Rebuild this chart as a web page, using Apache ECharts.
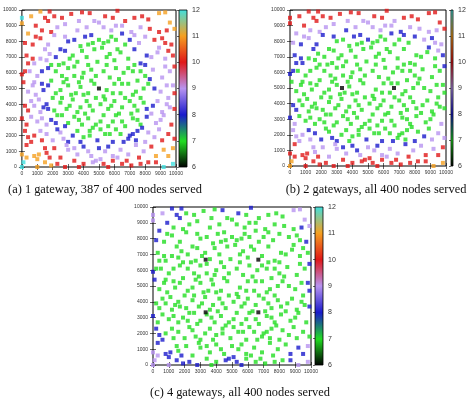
<!DOCTYPE html>
<html>
<head>
<meta charset="utf-8">
<script src="https://cdn.jsdelivr.net/npm/echarts@6/dist/echarts.min.js"></script>
<style>
  html, body { margin: 0; padding: 0; background: #fff; }
  #chart { width: 468px; height: 404px; }
</style>
</head>
<body>
<div id="chart"></div>
<script>
// node positions (same deployment in all three panels)
const nodePos = [
  [0,9500],[1200,9900],[1500,9500],[1700,9300],[2100,9600],[3200,9750],[3900,9850],[4400,9800],[5400,9600],[5900,9500],
  [6200,9950],[7300,9500],[7800,9600],[8900,9800],[9300,9850],[9600,9200],[6700,9300],[0,9150],[400,8500],[900,9000],
  [1300,8700],[1900,8600],[2300,8900],[2800,9100],[3600,8700],[4200,8900],[4700,9300],[5300,8900],[5800,8700],[6500,9000],
  [7100,8600],[7700,8900],[8300,8800],[8900,8600],[9400,8700],[9900,8800],[600,9600],[200,7900],[700,7800],[1200,8200],
  [1700,7800],[2100,8400],[2800,8300],[3000,8000],[3400,8100],[4100,8300],[4500,8400],[5000,8100],[5600,8000],[6100,8100],
  [6500,8500],[7000,8100],[7300,8400],[8000,8300],[8600,8100],[9300,7900],[9700,7800],[9100,8200],[1500,7500],[300,7100],
  [700,6900],[800,6600],[1200,6900],[1800,7200],[2200,7000],[2700,6600],[2800,7400],[3300,7100],[3900,7400],[4300,7800],
  [4700,7500],[5300,7900],[5700,7200],[6000,6800],[6400,7300],[6900,6900],[7300,7500],[7700,6600],[8000,6500],[8400,7000],
  [8800,7300],[9300,6900],[9800,7100],[9900,6400],[1600,6800],[0,5900],[200,6100],[500,6100],[800,5400],[1300,6100],
  [1300,5300],[1900,5500],[2200,6100],[2600,5800],[3000,6300],[3400,5800],[3700,5400],[4000,6000],[4500,6200],[5300,6100],
  [5700,5700],[6100,6300],[6600,6000],[7200,6100],[7500,5500],[8000,5800],[8500,6200],[9100,5700],[9600,6100],[9800,5200],
  [100,5400],[400,4800],[900,4600],[1400,4900],[2000,4400],[2500,4900],[3000,5200],[3500,4700],[3800,5100],[4300,4700],
  [4700,5300],[5500,4900],[6000,5300],[6400,4700],[6900,5300],[7400,4800],[7900,5000],[8600,5000],[9000,4800],[9500,4400],
  [9900,4700],[200,3900],[400,3600],[800,3900],[1200,3500],[1600,4000],[1700,3700],[1400,3800],[2500,4100],[2900,3700],
  [3300,4300],[3800,3800],[4200,4200],[4600,3600],[5100,4000],[5600,3700],[6000,4200],[6500,3800],[7000,4200],[7500,3600],
  [7900,4100],[8100,3700],[8500,3900],[9100,3500],[9600,3800],[9900,3700],[0,3100],[600,3200],[1000,2900],[1300,3100],
  [1900,3000],[2200,2800],[2600,3300],[3000,2800],[3400,3200],[3900,2700],[4300,3100],[4800,2700],[5300,3300],[5900,2900],
  [6300,3400],[6700,2600],[7200,3100],[7700,2700],[8100,3200],[8700,2800],[9200,3300],[9700,2700],[200,2300],[400,1900],
  [800,2000],[1200,2300],[1600,2100],[2000,1700],[2500,2200],[3000,1600],[3600,2300],[4000,1900],[4400,2300],[4900,1700],
  [5400,2100],[5900,1600],[6400,2100],[6900,1800],[7200,2100],[7500,2300],[7800,2500],[7000,2000],[8200,2200],[8600,1900],
  [9100,1700],[9500,2100],[0,800],[300,1400],[800,700],[1000,500],[1100,800],[1500,1200],[1600,900],[2100,1200],
  [2500,600],[3000,1100],[3600,800],[4000,1300],[4500,700],[4800,400],[5100,500],[5400,1000],[5900,700],[6400,1100],
  [6900,800],[7400,1400],[7900,1000],[8400,1300],[8700,700],[9200,1100],[9500,700],[9800,1200],[0,0],[100,300],
  [1000,0],[1500,300],[1900,100],[2800,0],[3400,400],[4000,200],[4600,300],[5600,0],[5900,400],[6500,200],
  [7100,100],[8200,300],[9200,0],[9800,200],[1800,9900],[3700,9300],[5000,9200],[6100,9000],[8200,9400],[2600,9500],
  [900,8300],[3800,7700],[4600,7900],[5200,7600],[5800,8300],[6700,7800],[7600,7900],[8900,7600],[400,6600],[2500,7500],
  [3600,6700],[4200,7000],[4900,6700],[5500,7000],[6200,7500],[7300,6500],[8100,7100],[9500,7400],[3100,6900],[1900,6500],
  [1000,5800],[1700,6300],[2400,6500],[2900,5600],[3400,6400],[3900,5700],[4300,6500],[4800,5800],[5500,6500],[6300,5600],
  [6900,6300],[7700,6100],[8300,5600],[9300,6400],[700,5200],[1700,5200],[2200,4700],[2700,5400],[3200,4600],[4000,4600],
  [4500,5500],[5300,4500],[5900,4700],[6500,5300],[7200,4600],[8200,5300],[9400,5200],[1100,4300],[600,4200],[2100,3600],
  [2600,4400],[3100,3900],[3600,3500],[4400,3900],[4800,4400],[5400,4300],[5800,3900],[6700,4400],[7300,3900],[7700,4400],
  [8800,4200],[9400,4000],[300,2700],[1600,2700],[2300,3300],[2800,2600],[3700,3000],[4100,3400],[4600,2500],[5100,2900],
  [5600,2600],[6100,3300],[6500,2900],[7100,3400],[7500,3000],[8400,3400],[9000,3000],[600,1600],[1300,1700],[2300,2400],
  [2700,1800],[3300,2000],[3800,1600],[4400,2000],[5100,2400],[5700,2100],[6100,2400],[6600,1600],[7400,1700],[8000,1600],
  [8900,2400],[9900,1800],[300,600],[1800,600],[2900,1400],[3400,1200],[4300,1000],[5000,1200],[5600,1300],[6200,600],
  [7600,600],[2300,200],[3700,0],[5300,200],[6800,400],[7700,200],[8700,300]
];

// colour value of every node, one array per panel
const sfA = [
  12,11,10,10,10,10,10,10,10,10,  10,10,10,11,11,11,10,11,11,10,
  10,10,9,9,9,9,9,9,9,9,          9,9,10,10,10,11,11,10,10,10,
  9,9,9,8,8,8,8,7,7,7,            8,8,9,9,10,10,10,10,9,10,
  10,9,9,9,8,7,8,7,7,7,           7,7,7,7,7,7,8,8,8,9,
  9,9,10,10,9,10,10,9,9,8,        8,7,7,7,7,7,7,7,7,7,
  7,7,7,7,7,7,9,9,9,9,            10,9,9,8,7,7,7,7,7,7,
  7,7,7,7,7,7,7,8,9,9,            10,10,10,9,9,8,8,8,7,7,
  7,7,7,7,7,7,7,7,7,7,            7,8,8,9,9,10,10,9,9,9,
  8,8,7,7,7,7,7,7,7,7,            7,7,7,7,8,9,9,10,10,10,
  10,9,9,9,9,8,7,7,7,8,           7,8,7,8,8,8,8,8,9,9,
  10,10,11,10,11,11,11,10,10,10,  10,9,9,8,9,9,9,9,9,9,
  9,9,9,10,11,11,11,11,12,12,     11,11,11,10,10,10,9,10,10,10,
  10,10,12,12,10,9,9,9,10,10,     10,7,7,7,7,7,9,9,10,8,
  7,7,7,7,7,7,8,10,7,7,           9,8,7,7,7,7,7,7,7,7,
  7,7,8,9,9,8,7,7,7,7,            7,7,7,7,7,7,9,9,9,7,
  7,7,7,7,7,7,7,7,7,7,            9,9,10,9,7,8,7,7,7,7,
  7,7,7,7,7,9,9,10,10,8,          9,8,8,7,7,7,7,8,8,9,
  9,10,11,10,9,9,9,8,8,9,         10,10,10,10,10,10,10
];
const sfB = [
  10,10,10,10,10,10,10,10,10,10,  10,10,10,10,10,10,9,10,9,10,
  9,9,9,9,8,9,9,9,9,9,            8,9,9,9,9,10,10,9,8,9,
  8,8,8,7,7,8,8,8,7,7,            8,7,8,8,9,9,9,8,8,8,
  8,8,7,7,7,7,7,7,7,7,            7,7,7,7,7,7,7,7,7,7,
  7,7,8,8,7,8,8,7,7,7,            7,7,7,7,7,7,7,7,7,7,
  7,7,7,7,7,7,7,7,7,7,            7,7,7,7,7,7,7,7,7,7,
  7,7,7,7,7,7,7,7,7,7,            7,8,8,7,7,7,7,7,7,7,
  7,7,7,7,7,7,7,7,7,7,            7,7,7,7,7,7,8,7,7,7,
  7,7,7,7,7,7,7,7,7,7,            7,7,7,7,7,7,7,9,9,9,
  9,8,8,8,7,8,7,7,7,8,            7,8,7,7,7,7,7,7,7,8,
  9,9,10,10,10,10,10,9,9,9,       9,9,9,8,9,10,10,9,9,9,
  9,8,9,9,10,9,10,10,11,11,       10,10,10,10,10,10,10,10,10,10,
  10,10,11,11,10,9,9,9,10,10,     9,7,7,7,7,7,7,8,8,7,
  7,7,7,7,7,7,7,9,7,7,            7,7,7,7,7,7,7,7,7,7,
  7,7,7,7,7,7,7,7,7,7,            7,7,7,7,7,7,7,7,7,7,
  7,7,7,7,7,7,7,7,7,7,            7,7,9,7,7,7,7,7,7,7,
  7,7,7,7,7,7,7,9,9,7,            8,7,7,7,7,7,7,8,7,8,
  7,9,10,10,9,8,8,9,8,9,          10,10,10,10,10,10,10
];
const sfC = [
  9,8,8,8,7,7,7,8,8,7,            8,7,7,9,9,9,7,9,8,8,
  7,7,7,7,7,7,7,7,7,7,            7,7,7,7,8,9,9,8,7,7,
  7,7,7,7,7,7,7,7,7,7,            7,7,7,7,7,7,8,7,7,7,
  7,7,7,7,7,7,7,7,7,7,            7,7,7,7,7,7,7,7,7,7,
  7,7,7,8,7,8,7,7,7,7,            7,7,7,7,7,7,7,7,7,7,
  7,7,7,7,7,7,7,7,7,8,            8,7,7,7,7,7,7,7,7,7,
  7,7,7,7,7,7,7,7,7,7,            8,7,7,7,7,7,7,7,7,7,
  7,7,7,7,7,7,7,7,7,7,            7,7,7,7,7,8,8,7,7,7,
  7,7,7,7,7,7,7,7,7,7,            7,7,7,7,7,7,7,7,8,8,
  7,7,7,7,7,7,7,7,7,7,            7,7,7,7,7,7,7,7,7,7,
  7,7,9,8,8,8,8,7,7,7,            7,7,7,7,7,8,8,7,7,7,
  7,7,7,7,8,8,8,9,9,9,            9,8,8,8,7,7,8,8,7,7,
  7,7,9,9,8,7,7,7,7,7,            7,7,7,7,7,7,7,7,7,7,
  7,7,7,7,7,7,7,7,7,7,            7,7,7,7,7,7,7,7,7,7,
  7,7,7,7,7,7,7,7,7,7,            7,7,7,7,7,7,7,7,7,7,
  7,7,7,7,7,7,7,7,7,7,            7,7,7,7,7,7,7,7,7,7,
  7,7,7,7,7,7,7,8,7,7,            7,7,7,7,7,7,7,7,7,7,
  7,7,9,8,7,7,7,7,7,7,            7,8,7,8,7,7,8
];

const gwA = [[5000,5000]];
const gwB = [[3333,5000],[6667,5000]];
const gwC = [[3333,3333],[6667,3333],[3333,6667],[6667,6667]];

const captions = [
  '(a) 1 gateway, 387 of 400 nodes served',
  '(b) 2 gateways, all 400 nodes served',
  '(c) 4 gateways, all 400 nodes served'
];

const palette = ['#000000', '#22dd22', '#1a1acc', '#b894f0', '#e01818', '#f5a021', '#40e0e0'];

// layout of the three panels (plot square, colour bar, caption)
const panels = [
  { left: 19,  top: 10,  size: 157, bar: 179, capX: 105, capY: 190, sf: sfA, gw: gwA },
  { left: 290, top: 10,  size: 156, bar: 451, capX: 376, capY: 190, sf: sfB, gw: gwB },
  { left: 153, top: 207, size: 158, bar: 315, capX: 240, capY: 393, sf: sfC, gw: gwC }
];

const chart = echarts.init(document.getElementById('chart'));

const grid = [], xAxis = [], yAxis = [], series = [], graphic = [];
const tickStyle = { inside: true, length: 3, lineStyle: { color: '#000', width: 0.6 } };
const labelStyle = { fontSize: 5, color: '#333', fontFamily: 'Liberation Sans', formatter: v => String(v) };

panels.forEach((p, i) => {
  grid.push({
    left: p.left, top: p.top, width: p.size, height: p.size,
    show: true, borderColor: '#000', borderWidth: 1, backgroundColor: 'transparent'
  });
  const base = { gridIndex: i, type: 'value', min: 0, max: 10000, interval: 1000,
    axisLine: { show: false }, splitLine: { show: false }, axisTick: tickStyle };
  xAxis.push(Object.assign({}, base, { position: 'bottom',
    axisLabel: Object.assign({ margin: 4, hideOverlap: false }, labelStyle) }));
  xAxis.push(Object.assign({}, base, { position: 'top', axisLabel: { show: false } }));
  yAxis.push(Object.assign({}, base, { position: 'left',
    axisLabel: Object.assign({ margin: 5, hideOverlap: false }, labelStyle) }));
  yAxis.push(Object.assign({}, base, { position: 'right', axisLabel: { show: false } }));

  series.push({
    type: 'scatter', xAxisIndex: 2 * i, yAxisIndex: 2 * i,
    symbol: 'rect', symbolSize: 4, clip: false, silent: true,
    data: nodePos.map((pt, k) => [pt[0], pt[1], p.sf[k]])
  });
  series.push({
    type: 'scatter', xAxisIndex: 2 * i, yAxisIndex: 2 * i,
    symbol: 'rect', symbolSize: 4, clip: false, silent: true,
    itemStyle: { color: '#000' }, data: p.gw
  });

  graphic.push({
    type: 'text', x: p.capX, y: p.capY,
    style: { text: captions[i], fill: '#111', font: '12.4px "Liberation Serif"',
      textAlign: 'center', textVerticalAlign: 'middle' }
  });
});

// colour bars: a gradient-filled grid with its own 6..12 axis
const barFill = new echarts.graphic.LinearGradient(0, 1, 0, 0,
  palette.map((c, k) => ({ offset: k / (palette.length - 1), color: c })));
panels.forEach((p, i) => {
  const gi = 3 + i;
  grid.push({
    left: p.bar, top: p.top, width: 8, height: p.size,
    show: true, backgroundColor: barFill, borderColor: '#000', borderWidth: 0.8
  });
  xAxis.push({ gridIndex: gi, type: 'value', show: false, min: 0, max: 1 });
  yAxis.push({
    gridIndex: gi, type: 'value', position: 'right', min: 6, max: 12, interval: 1,
    axisLine: { show: false }, splitLine: { show: false },
    axisTick: { inside: true, length: 2, lineStyle: { color: '#000', width: 0.6 } },
    axisLabel: { fontSize: 7, margin: 5, color: '#333', fontFamily: 'Liberation Sans' }
  });
});

chart.setOption({
  animation: false,
  backgroundColor: '#fff',
  grid, xAxis, yAxis, series, graphic,
  visualMap: [{
    type: 'continuous', show: false, min: 6, max: 12, dimension: 2,
    seriesIndex: [0, 2, 4], inRange: { color: palette }
  }]
});
</script>
</body>
</html>
